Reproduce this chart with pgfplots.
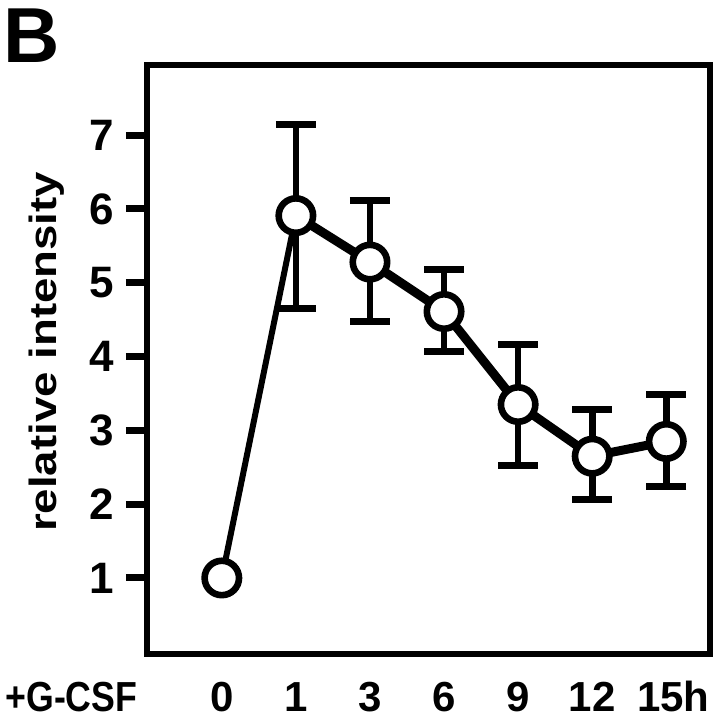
\documentclass[border=0pt]{standalone}
\usepackage{fontspec}
\setmainfont{Liberation Sans}
\newfontfamily\ylabfont[FakeStretch=1.2]{Liberation Sans}
\newfontfamily\condfont[FakeStretch=0.85]{Liberation Sans}
\usepackage{pgfplots}
\usepackage{pgfplotstable}
\pgfplotsset{compat=1.18}
\pgfplotstableread{
x y ep em
1 5.91 1.23 1.26
2 5.28 0.84 0.81
3 4.61 0.57 0.54
4 3.35 0.82 0.83
5 2.65 0.63 0.58
6 2.85 0.63 0.61
}\errtable
\begin{document}
\begin{tikzpicture}
\path[use as bounding box] (-73.5pt,-33pt) rectangle (286.5pt,327pt);
\begin{axis}[
  scale only axis, width=281.5pt, height=294.5pt,
  xmin=-1.01, xmax=6.59, ymin=-0.03, ymax=7.95,
  axis line style={line width=3.3pt, black},
  xtick={0,...,6},
  xticklabels={0,1,3,6,9,12,\hspace*{7pt}15h},
  ytick={1,...,7},
  ytick pos=left,
  tick align=outside,
  major tick length=10.5pt,
  every tick/.style={black, line width=3.5pt},
  x tick style={draw=none},
  xticklabel style={font=\bfseries\fontsize{21}{21}\selectfont, anchor=base, yshift=-18pt},
  yticklabel style={font=\bfseries\fontsize{22}{22}\selectfont, inner sep=0pt, xshift=-6pt},
  /pgf/number format/assume math mode=true,
  ylabel={\ylabfont\bfseries relative intensity},
  ylabel style={at={(axis description cs:-0.178,0.513)}, anchor=center, font=\fontsize{19}{19}\selectfont},
  clip=false,
]
\addplot[black, only marks, mark=none,
  error bars/.cd, y dir=both, y explicit,
  error bar style={line width=3.3pt, black},
  error mark options={rotate=90, line width=3.5pt, mark size=10pt, black}]
  table[x=x, y=y, y error plus=ep, y error minus=em] {\errtable};
\addplot[black, line width=3pt, mark=none] coordinates {(0,1) (1,5.91)};
\addplot[black, line width=4.5pt, mark=none, line join=round] coordinates {(1,5.91) (2,5.28) (3,4.61) (4,3.35) (5,2.65) (6,2.85)};
\addplot[only marks, mark=*, mark size=8.6pt, mark options={fill=white, draw=black, line width=3.3pt}] coordinates {(0,1) (1,5.91) (2,5.28) (3,4.61) (4,3.35) (5,2.65) (6,2.85)};
\node[anchor=base west, inner sep=0pt, xshift=-71pt, yshift=-28.5pt, font=\condfont\bfseries\fontsize{21}{21}\selectfont] at (rel axis cs:0,0) {+G-CSF};
\end{axis}
\node[anchor=north west, inner sep=0pt, font=\bfseries\fontsize{39}{39}\selectfont] at (-72pt,323pt) {B};
\end{tikzpicture}
\end{document}
